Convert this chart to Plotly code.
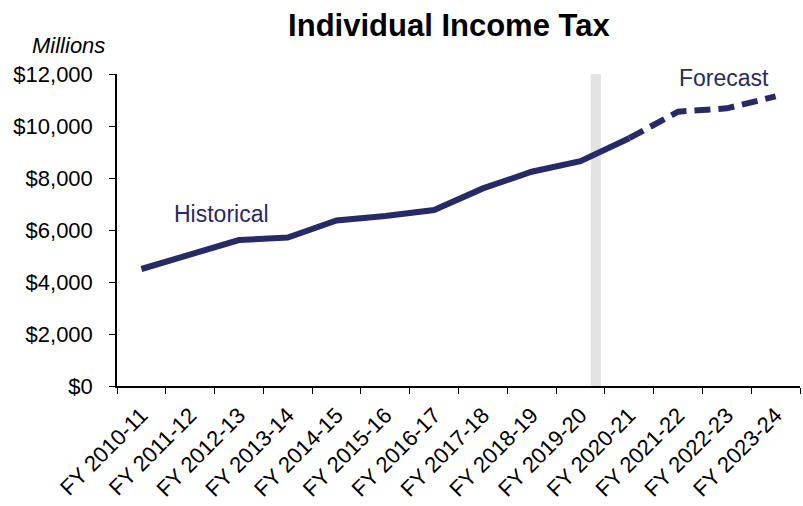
import plotly.graph_objects as go

fiscal_years = ["FY 2010-11", "FY 2011-12", "FY 2012-13", "FY 2013-14", "FY 2014-15",
                "FY 2015-16", "FY 2016-17", "FY 2017-18", "FY 2018-19", "FY 2019-20",
                "FY 2020-21", "FY 2021-22", "FY 2022-23", "FY 2023-24"]
historical = [4500, 5040, 5615, 5710, 6365, 6540, 6770, 7600, 8240, 8650, 9530]
forecast = [9530, 10550, 10680, 11140]

navy = "#262a68"
font_family = "Liberation Sans, Arial, sans-serif"

fig = go.Figure()
fig.add_trace(go.Scatter(x=fiscal_years[:len(historical)], y=historical, mode="lines",
                         line=dict(color=navy, width=6), showlegend=False))
fig.add_trace(go.Scatter(x=fiscal_years[len(historical) - 1:], y=forecast, mode="lines",
                         line=dict(color=navy, width=6, dash="16px,8px"), showlegend=False))

# grey marker separating actuals from projections
fig.add_shape(type="rect", xref="x", yref="paper", x0=9.21, x1=9.42, y0=0, y1=1,
              fillcolor="#e3e3e3", line=dict(width=0), layer="below")

fig.add_annotation(text="Historical", x=1.64, y=6620, xref="x", yref="y", showarrow=False,
                   font=dict(size=23, color=navy, family=font_family))
fig.add_annotation(text="Forecast", x=11.95, y=11850, xref="x", yref="y", showarrow=False,
                   font=dict(size=23, color=navy, family=font_family))
fig.add_annotation(text="<i>Millions</i>", x=-0.014, y=1.0, xref="paper", yref="paper",
                   xanchor="right", yanchor="bottom", yshift=14, showarrow=False,
                   font=dict(size=22, color="black", family=font_family))

fig.update_layout(
    width=803, height=506,
    margin=dict(l=117, r=3, t=74, b=120, autoexpand=False),
    paper_bgcolor="white", plot_bgcolor="white",
    title=dict(text="<b>Individual Income Tax</b>", x=0.559, xanchor="center", y=0.95,
               yanchor="middle", font=dict(size=31, color="black", family=font_family)),
    font=dict(family=font_family, color="black"),
)
fig.update_xaxes(type="category", tickson="boundaries", ticks="outside", ticklen=6,
                 tickcolor="black", showline=True, linecolor="black", linewidth=1.5,
                 showgrid=False, tickangle=-45, tickfont=dict(size=22), range=[-0.5, 13.5],
                 ticklabelstandoff=6, automargin=False)
fig.update_yaxes(range=[0, 12000], tickvals=list(range(0, 12001, 2000)),
                 ticktext=[f"${v:,}" for v in range(0, 12001, 2000)],
                 ticks="outside", ticklen=6, tickcolor="black", showline=True,
                 linecolor="black", linewidth=1.5, showgrid=False, zeroline=False,
                 tickfont=dict(size=22), ticklabelstandoff=12, automargin=False)

fig.write_html("out.html")
